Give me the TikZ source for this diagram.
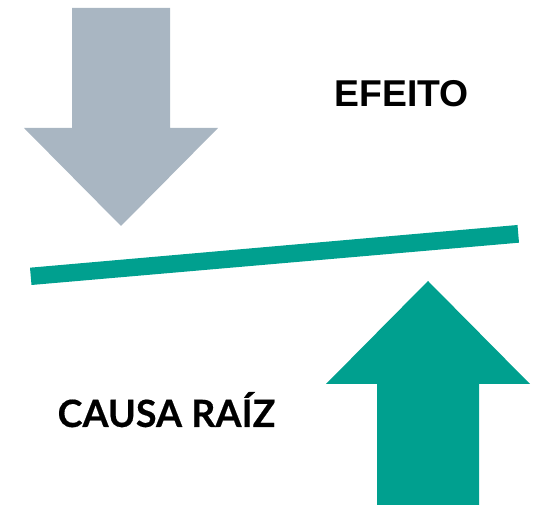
\documentclass[tikz,border=0pt]{standalone}
\usepackage{fontspec}
\setmainfont{Lato}[BoldFeatures={FakeBold=0.4}]
\newfontfamily\efont{Liberation Sans}
\definecolor{teal1}{HTML}{00A08F}
\definecolor{grey1}{HTML}{A9B6C2}
\tikzset{lbl/.style={text=black,inner sep=0pt,anchor=base}}
\begin{document}
\begin{tikzpicture}[x=1pt,y=-1pt,scale=0.75]
\useasboundingbox (0,0) rectangle (540,505);
\fill[grey1] (72,8) -- (170,8) -- (170,128) -- (218,128) -- (121,226) -- (24,128) -- (72,128) -- cycle;
\fill[teal1] (377,505) -- (479,505) -- (479,384) -- (530,384) -- (428,281) -- (326,384) -- (377,384) -- cycle;
\fill[teal1] (30,267.7) -- (517.5,225) -- (519,242.7) -- (31.5,285) -- cycle;
\node[lbl,font=\efont\bfseries\fontsize{28}{30}\selectfont] (e) at (401.5,106.5) {EFEITO};
\node[lbl,font=\bfseries\fontsize{28.2}{30}\selectfont] (c) at (166.5,427) {CAUSA RAÍZ};
\end{tikzpicture}
\end{document}
